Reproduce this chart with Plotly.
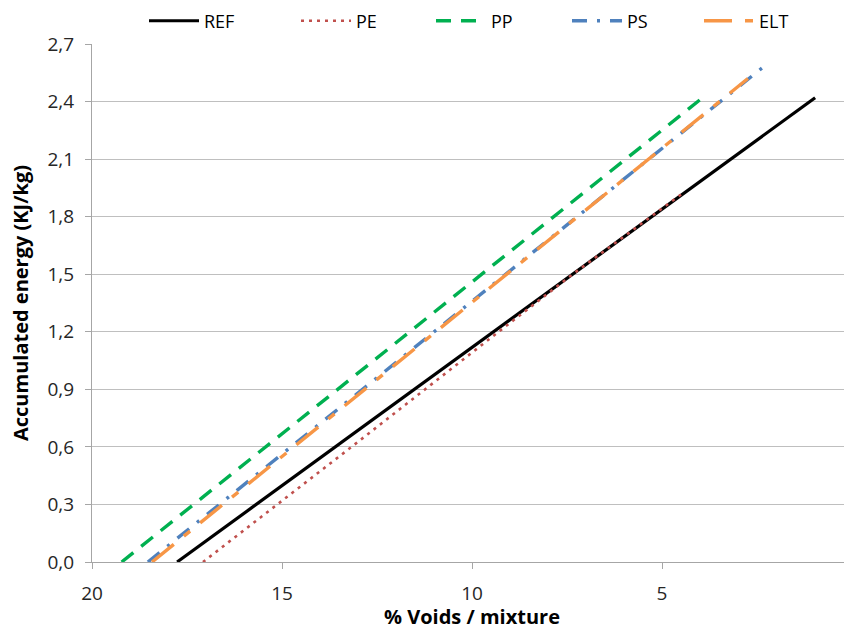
import plotly.graph_objects as go

# Data (x = % voids, y = accumulated energy KJ/kg)
ref_x = [17.76, 13.60, 9.43, 5.27, 0.97]
ref_y = [0.0, 0.6, 1.2, 1.8, 2.42]
pe_x = [17.08, 13.17, 9.30, 7.35, 4.40]
pe_y = [0.0, 0.6, 1.2, 1.5, 1.93]
pp_x = [19.22, 15.43, 11.64, 7.85, 3.87]
pp_y = [0.0, 0.6, 1.2, 1.8, 2.43]
ps_x = [18.53, 14.76, 10.99, 7.23, 2.21]
ps_y = [0.0, 0.6, 1.2, 1.8, 2.60]
elt_x = [18.42, 14.69, 10.95, 7.22, 2.74]
elt_y = [0.0, 0.6, 1.2, 1.8, 2.52]

y_ticks = [0.0, 0.3, 0.6, 0.9, 1.2, 1.5, 1.8, 2.1, 2.4, 2.7]
y_tick_text = ["0,0", "0,3", "0,6", "0,9", "1,2", "1,5", "1,8", "2,1", "2,4", "2,7"]
x_ticks = [20, 15, 10, 5, 0]
x_tick_text = ["20", "15", "10", "5", "0"]

FONT = "Open Sans"
FIG_W = 844

series = [
    ("REF", ref_x, ref_y, dict(color="#000000", width=3.2)),
    ("PE", pe_x, pe_y, dict(color="#C0504D", width=2.6, dash="3px,5px")),
    ("PP", pp_x, pp_y, dict(color="#00B050", width=3.4, dash="15px,10px")),
    ("PS", ps_x, ps_y, dict(color="#4F81BD", width=3.4, dash="15px,10px,3px,10px")),
    ("ELT", elt_x, elt_y, dict(color="#F79646", width=3.4, dash="28px,13px,8px,13px")),
]
# one legend box per entry, placed like the reference legend (pixel x of each box)
legend_px = [136, 288, 423, 559, 691]

fig = go.Figure()
legend_layout = {}
for i, ((name, xs, ys, line), px) in enumerate(zip(series, legend_px)):
    key = "legend" if i == 0 else f"legend{i + 1}"
    fig.add_trace(go.Scatter(x=xs, y=ys, mode="lines", name=name, line=line,
                             legend=key))
    legend_layout[key] = dict(
        orientation="h", xref="container", yref="paper",
        x=px / FIG_W, y=1.080, xanchor="left", yanchor="top",
        font=dict(family=FONT, size=18, color="#000000"),
        itemwidth=50, bgcolor="rgba(0,0,0,0)")

# the page body adds an 8px offset, so the figure is 844x622 and margins are shifted
fig.update_layout(
    width=FIG_W, height=622,
    margin=dict(l=84, r=0, t=36, b=68, autoexpand=False),
    paper_bgcolor="white", plot_bgcolor="white",
    font=dict(family=FONT, size=18, color="#262626"),
    showlegend=True,
    **legend_layout,
    xaxis=dict(range=[20, 0], tickvals=x_ticks, ticktext=x_tick_text,
               automargin=False, ticklabeloverflow="allow",
               showgrid=False, zeroline=False, showline=True,
               linecolor="#A6A6A6", linewidth=1.3,
               ticks="outside", ticklen=6, tickcolor="#A6A6A6",
               ticklabelstandoff=8,
               tickfont=dict(family=FONT, size=19, color="#262626"),
               title=dict(text="<b>% Voids / mixture</b>", standoff=0,
                          font=dict(family=FONT, size=20, color="#000000"))),
    yaxis=dict(range=[0, 2.7], tickvals=y_ticks, ticktext=y_tick_text,
               automargin=False,
               showgrid=True, gridcolor="#BFBFBF", gridwidth=1.3,
               zeroline=False, showline=True,
               linecolor="#A6A6A6", linewidth=1.3,
               ticks="outside", ticklen=6, tickcolor="#A6A6A6",
               ticklabelstandoff=7,
               tickfont=dict(family=FONT, size=19, color="#262626")),
    annotations=[dict(text="<b>Accumulated energy (KJ/kg)</b>", textangle=-90,
                      xref="paper", yref="paper", x=0, y=0.5,
                      xanchor="center", yanchor="middle", xshift=-72,
                      showarrow=False,
                      font=dict(family=FONT, size=20, color="#000000"))],
)

fig.write_html("out.html")
